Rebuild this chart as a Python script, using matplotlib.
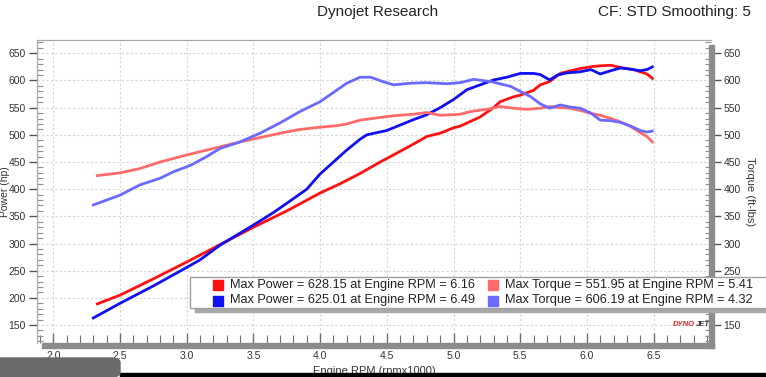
import matplotlib
matplotlib.use("Agg")
import matplotlib.pyplot as plt
from matplotlib.patches import Rectangle, FancyBboxPatch
from matplotlib.ticker import MultipleLocator, FuncFormatter

plt.rcParams["font.family"] = ["Liberation Sans", "DejaVu Sans"]

W, H = 766, 377

# run 1 (red) and run 2 (blue), rpm in thousands
RPM_P1 = [2.33, 2.5, 2.75, 3.0, 3.25, 3.5, 3.75, 4.0, 4.15, 4.3, 4.45, 4.55, 4.7, 4.8, 4.9, 5.0, 5.05,
          5.2, 5.3, 5.35, 5.45, 5.5, 5.6, 5.65, 5.72, 5.8, 5.88, 5.95, 6.05, 6.1, 6.18, 6.25, 6.3,
          6.35, 6.4, 6.45, 6.49]
POWER_1 = [189, 205, 235, 266, 298, 330, 360, 393, 410, 429, 450, 463, 483, 497, 503, 513, 516,
           533, 550, 561, 570, 573, 582, 592, 598, 613, 618, 622, 626, 627, 628, 624, 622,
           620, 616, 612, 604]

RPM_P2 = [2.3, 2.5, 2.75, 3.0, 3.1, 3.25, 3.5, 3.65, 3.75, 3.9, 4.0, 4.1, 4.2, 4.3, 4.35, 4.5, 4.6,
          4.7, 4.8, 4.9, 5.0, 5.1, 5.2, 5.3, 5.4, 5.5, 5.6, 5.65, 5.72, 5.78, 5.85, 5.95, 6.03,
          6.1, 6.18, 6.25, 6.32, 6.4, 6.45, 6.49]
POWER_2 = [163, 190, 222, 256, 270, 297, 334, 357, 374, 400, 428, 450, 472, 492, 500, 508, 518,
           528, 537, 550, 565, 583, 592, 601, 606, 613, 613, 611, 601, 610, 614, 616, 620,
           612, 618, 623, 621, 618, 620, 625]

RPM_T1 = [2.33, 2.5, 2.65, 2.8, 3.0, 3.2, 3.4, 3.55, 3.7, 3.85, 4.0, 4.13, 4.2, 4.3, 4.45, 4.55,
          4.7, 4.8, 4.9, 5.0, 5.05, 5.13, 5.25, 5.35, 5.45, 5.55, 5.65, 5.72, 5.8, 5.87, 5.95,
          6.02, 6.1, 6.18, 6.25, 6.33, 6.4, 6.45, 6.49]
TORQUE_1 = [425, 430, 438, 450, 463, 475, 487, 495, 503, 510, 514, 517, 520, 527, 532, 535,
            538, 541, 536, 537, 538, 543, 547, 552, 549, 547, 549, 552, 550, 549, 545,
            540, 536, 530, 524, 515, 504, 497, 487]

RPM_T2 = [2.3, 2.5, 2.65, 2.8, 2.9, 3.03, 3.15, 3.25, 3.4, 3.55, 3.7, 3.85, 4.0, 4.1, 4.2, 4.3,
          4.38, 4.47, 4.55, 4.68, 4.8, 4.95, 5.05, 5.15, 5.28, 5.43, 5.5, 5.58, 5.65, 5.72, 5.8,
          5.88, 5.95, 6.03, 6.1, 6.18, 6.25, 6.33, 6.4, 6.45, 6.49]
TORQUE_2 = [371, 389, 408, 420, 432, 444, 460, 475, 487, 503, 522, 543, 561, 578, 595, 606,
            606, 598, 592, 595, 596, 594, 596, 602, 598, 589, 580, 570, 557, 549, 555,
            551, 549, 540, 527, 526, 523, 516, 508, 505, 507]

LEGEND_LABELS = [["Max Power = 628.15 at Engine RPM = 6.16", "Max Torque = 551.95 at Engine RPM = 5.41"],
                 ["Max Power = 625.01 at Engine RPM = 6.49", "Max Torque = 606.19 at Engine RPM = 4.32"]]

RED = "#ff1010"
BLUE = "#1010f0"
LIGHT_RED = "#ff6a6a"
LIGHT_BLUE = "#6a6aff"
AXIS_GRAY = "#8c8c8c"


def fx(px):
    return px / W


def fy(py):
    return 1 - py / H


fig = plt.figure(figsize=(W / 100, H / 100), dpi=100)
fig.patch.set_facecolor("white")

left, right, top, bottom = 37, 711, 40, 343
ax = fig.add_axes([fx(left), fy(bottom), fx(right - left), (bottom - top) / H])
ax2 = ax.twinx()

XLIM = (1.878, 6.93)
YLIM = (117, 674.5)

ax.plot(RPM_P1, POWER_1, color=RED, lw=2.0, zorder=3, solid_joinstyle="round")
ax.plot(RPM_P2, POWER_2, color=BLUE, lw=2.0, zorder=3, solid_joinstyle="round")
ax2.plot(RPM_T1, TORQUE_1, color=LIGHT_RED, lw=2.0, zorder=2, solid_joinstyle="round")
ax2.plot(RPM_T2, TORQUE_2, color=LIGHT_BLUE, lw=2.0, zorder=2, solid_joinstyle="round")

for a in (ax, ax2):
    a.set_xlim(*XLIM)
    a.set_ylim(*YLIM)
    a.yaxis.set_major_locator(MultipleLocator(50))
    a.yaxis.set_minor_locator(MultipleLocator(10))

# the legend box hides the right-hand 200 label in the original
ax2.yaxis.set_major_formatter(FuncFormatter(lambda v, p: "" if round(v) == 200 else f"{v:.0f}"))

ax.xaxis.set_major_locator(MultipleLocator(0.5))
ax.xaxis.set_minor_locator(MultipleLocator(0.1))
ax.grid(True, which="major", color="#d4d4d4", linestyle=(0, (2, 2)), lw=0.8)

ax.tick_params(axis="x", which="both", direction="in", colors="#707070", labelcolor="#333333",
               labelsize=7.5, pad=6)
ax.tick_params(axis="x", which="major", length=7, width=1)
ax.tick_params(axis="x", which="minor", length=6, width=0.8)
ax.tick_params(axis="y", which="major", direction="out", length=6, width=1, colors="#555555",
               labelcolor="#333333", labelsize=7.5, pad=2)
ax.tick_params(axis="y", which="minor", direction="in", length=4, width=0.8, colors="#909090")
ax2.tick_params(axis="y", which="major", direction="out", length=7, width=1, colors="#555555",
                labelcolor="#333333", labelsize=7.5, pad=2)
ax2.tick_params(axis="y", which="minor", direction="in", length=4, width=0.8, colors="#909090")

for a in (ax, ax2):
    a.spines["top"].set_color("#a8a8a8")
    a.spines["left"].set_color("#a8a8a8")
    a.spines["right"].set_visible(False)
    a.spines["bottom"].set_visible(False)
    a.patch.set_visible(False)

ax.set_ylabel("Power (hp)", fontsize=7.5, color="#333333")
ax2.set_ylabel("Torque (ft-lbs)", fontsize=8, color="#333333", rotation=270, labelpad=10)
ax.yaxis.set_label_coords((10 - left) / (right - left), 0.5)
fig.text(fx(374), fy(371), "Engine RPM (rpmx1000)", fontsize=8, color="#333333", ha="center", va="center")

# thick gray frame on bottom and right
fig.patches.append(Rectangle((fx(42), fy(348)), fx(714 - 42), 5 / H, transform=fig.transFigure,
                             color=AXIS_GRAY, zorder=5))
fig.patches.append(Rectangle((fx(709), fy(348)), fx(5), (348 - 45) / H, transform=fig.transFigure,
                             color=AXIS_GRAY, zorder=5))

# header
fig.text(fx(378), fy(12), "Dynojet Research", fontsize=11, color="#222222", ha="center", va="center")
fig.text(fx(751), fy(12), "CF: STD Smoothing: 5", fontsize=11, color="#222222", ha="right", va="center")

# legend box
fig.patches.append(Rectangle((fx(195), fy(312)), fx(600), 4 / H, transform=fig.transFigure,
                             color="#a8a8a8", zorder=6))
fig.patches.append(Rectangle((fx(190), fy(308)), fx(600), 31 / H, transform=fig.transFigure,
                             facecolor="white", edgecolor="#a0a0a0", lw=1, zorder=7))
row_y = [285, 300.5]
col_x = [218, 493]
colors = [[RED, LIGHT_RED], [BLUE, LIGHT_BLUE]]
for r in range(2):
    for c in range(2):
        fig.patches.append(Rectangle((fx(col_x[c] - 5), fy(row_y[r] + 5)), fx(10), 10 / H,
                                     transform=fig.transFigure, color=colors[r][c], zorder=8))
        fig.text(fx(col_x[c] + 12), fy(row_y[r]), LEGEND_LABELS[r][c], fontsize=9.2, color="#222222",
                 ha="left", va="center", zorder=9)

# logo
fig.text(fx(695), fy(325), "DYNO", fontsize=5.5, color="#e02020", fontweight="bold", style="italic",
         ha="right", va="center")
fig.text(fx(696), fy(325), "JET", fontsize=5.5, color="#333333", fontweight="bold", style="italic",
         ha="left", va="center")

# video overlay bits along the bottom edge
fig.patches.append(Rectangle((fx(120), 0), fx(W - 120), 4 / H, transform=fig.transFigure,
                             color="black", zorder=10))
fig.patches.append(FancyBboxPatch((fx(-10), fy(377)), fx(130), 19 / H, transform=fig.transFigure,
                                  boxstyle="round,pad=0,rounding_size=0.012", color="#6a6a6a", zorder=10))

fig.savefig("out.png", dpi=100)
